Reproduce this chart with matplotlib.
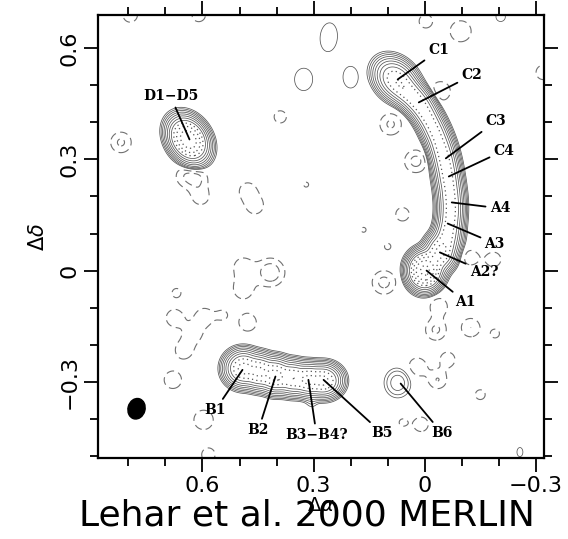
import numpy as np
import matplotlib
matplotlib.use("Agg")
import matplotlib.pyplot as plt
from matplotlib.patches import Ellipse
from matplotlib.ticker import MultipleLocator

# arc C1 -> A2 (offsets in arcsec), peak brightness in units of the lowest contour
arc_x = [0.078, 0.050, 0.020, -0.005, -0.027, -0.044, -0.055, -0.063, -0.069, -0.070, -0.064, -0.052, -0.030]
arc_y = [0.515, 0.486, 0.456, 0.418, 0.376, 0.332, 0.290, 0.246, 0.200, 0.155, 0.110, 0.068, 0.032]
arc_amp = [420, 300, 330, 280, 270, 270, 280, 280, 270, 270, 270, 300, 300]
arc_width = [0.019, 0.016, 0.015, 0.014, 0.014, 0.014, 0.014, 0.014, 0.014, 0.014, 0.014, 0.016, 0.017]

# compact components: A1, A2, D, B knots, B bump, B6, faint positive peaks
src_x = [0.000, -0.043, 0.638, 0.490, 0.447, 0.403, 0.357, 0.314, 0.273, 0.305, 0.073,
         0.259, 0.327, 0.200, -0.257, -0.205]
src_y = [0.000, 0.051, 0.354, -0.264, -0.273, -0.283, -0.290, -0.295, -0.297, -0.350, -0.303,
         0.630, 0.516, 0.522, -0.490, 0.685]
src_amp = [2500, 250, 1800, 650, 560, 640, 460, 560, 620, 2.2, 6.5,
           1.6, 1.6, 1.6, 1.3, 1.5]
src_smaj = [0.019, 0.018, 0.024, 0.019, 0.018, 0.018, 0.018, 0.018, 0.019, 0.010, 0.021,
            0.040, 0.031, 0.030, 0.017, 0.014]
src_smin = [0.017, 0.015, 0.018, 0.0185, 0.018, 0.018, 0.0175, 0.017, 0.017, 0.013, 0.019,
            0.024, 0.025, 0.021, 0.011, 0.014]
src_pa = [90, 60, 57, 0, 0, 0, 0, 0, 0, 0, 90,
          95, 90, 90, 90, 0]

# negative (dashed) residuals
neg_x = [0.795, 0.610, 0.820, 0.645, 0.612, 0.605, 0.478, 0.458, 0.390, 0.320, 0.165, 0.490, 0.416,
         0.490, 0.670, 0.675, 0.595, 0.625, 0.650, 0.680, 0.597, 0.584, 0.478, 0.100, 0.110, 0.060,
         0.092, 0.024, -0.043, -0.097, -0.003, -0.320, -0.124, -0.186, -0.038, -0.030, -0.124,
         -0.190, 0.020, -0.035, -0.062, -0.150, 0.010, 0.060, 0.545]
neg_y = [0.690, 0.690, 0.346, 0.255, 0.250, 0.200, 0.215, 0.175, 0.415, 0.232, 0.110, 0.010, -0.005,
         -0.050, -0.060, -0.128, -0.125, -0.170, -0.215, -0.295, -0.403, -0.497, -0.140, 0.065, -0.032,
         0.152, 0.395, 0.295, 0.484, 0.646, 0.673, 0.535, 0.035, 0.030, -0.097, -0.160, -0.154,
         -0.170, -0.260, -0.295, -0.240, -0.335, -0.415, -0.410, -0.120]
neg_amp = [-1.6, -1.5, -2.2, -1.7, -1.7, -1.6, -1.6, -1.6, -1.4, -1.1, -1.1, -1.6, -3.0,
           -1.6, -1.3, -1.7, -1.7, -1.6, -1.7, -1.6, -1.8, -1.5, -1.6, -1.2, -2.4, -1.5,
           -2.2, -2.4, -1.8, -2.0, -1.5, -1.6, -1.6, -1.6, -1.8, -2.2, -2.0,
           -1.3, -1.8, -2.0, -1.6, -1.4, -1.6, -1.2, -1.2]
neg_s = [0.020, 0.020, 0.022, 0.024, 0.022, 0.022, 0.022, 0.022, 0.020, 0.015, 0.015, 0.024, 0.026,
         0.026, 0.016, 0.022, 0.022, 0.022, 0.022, 0.024, 0.024, 0.020, 0.024, 0.014, 0.024, 0.020,
         0.023, 0.023, 0.024, 0.024, 0.020, 0.020, 0.020, 0.020, 0.021, 0.022, 0.021,
         0.016, 0.022, 0.020, 0.020, 0.016, 0.020, 0.014, 0.016]

levels_solid = 2.0 ** np.arange(0, 8)
levels_dotted = 2.0 ** np.arange(8, 12)
levels_neg = [-4.0, -2.0, -1.0]


def gauss2d(X, Y, x0, y0, amp, smaj, smin, pa_deg):
    th = np.deg2rad(pa_deg)
    dx, dy = X - x0, Y - y0
    u = dx * np.cos(th) + dy * np.sin(th)
    v = -dx * np.sin(th) + dy * np.cos(th)
    return amp * np.exp(-0.5 * ((u / smaj) ** 2 + (v / smin) ** 2))


xg = np.arange(-0.34, 0.90, 0.0015)
yg = np.arange(-0.52, 0.71, 0.0015)
X, Y = np.meshgrid(xg, yg)
Z = np.zeros_like(X)

# arc knots are stretched along the local direction of the arc
tx = np.gradient(np.array(arc_x))
ty = np.gradient(np.array(arc_y))
arc_pa = np.rad2deg(np.arctan2(ty, tx))
for x0, y0, a, w, pa in zip(arc_x, arc_y, arc_amp, arc_width, arc_pa):
    Z += gauss2d(X, Y, x0, y0, a, 0.025, w, pa)
for x0, y0, a, s1, s2, pa in zip(src_x, src_y, src_amp, src_smaj, src_smin, src_pa):
    Z += gauss2d(X, Y, x0, y0, a, s1, s2, pa)
for x0, y0, a, s in zip(neg_x, neg_y, neg_amp, neg_s):
    Z += gauss2d(X, Y, x0, y0, a, s, s, 0)

fig = plt.figure(figsize=(5.68, 5.39), dpi=100)
ax = fig.add_axes([98 / 568, 1 - 458 / 539, 446 / 568, 443 / 539])

ax.contour(X, Y, Z, levels=levels_solid, colors="#555555", linewidths=0.55, linestyles="solid")
ax.contour(X, Y, Z, levels=levels_dotted, colors="#555555", linewidths=0.9, linestyles=[(0, (1, 2.5))])
ax.contour(X, Y, Z, levels=levels_neg, colors="#707070", linewidths=0.8, linestyles=[(0, (7, 4))])

# restoring beam
ax.add_patch(Ellipse((0.778, -0.373), 0.046, 0.056, angle=15, color="black"))

labels = [
    ("C1", (0.073, 0.516), (-0.038, 0.595)),
    ("C2", (0.016, 0.454), (-0.127, 0.527)),
    ("C3", (-0.057, 0.303), (-0.192, 0.403)),
    ("C4", (-0.065, 0.254), (-0.214, 0.324)),
    ("A4", (-0.073, 0.184), (-0.203, 0.168)),
    ("A3", (-0.062, 0.127), (-0.189, 0.073)),
    ("A2?", (-0.041, 0.049), (-0.160, -0.003)),
    ("A1", (-0.005, 0.000), (-0.111, -0.086)),
    ("B1", (0.492, -0.268), (0.565, -0.376)),
    ("B2", (0.403, -0.286), (0.449, -0.430)),
    ("B3\u2212B4?", (0.314, -0.295), (0.292, -0.443)),
    ("B5", (0.273, -0.295), (0.116, -0.438)),
    ("B6", (0.065, -0.305), (-0.046, -0.438)),
    ("D1\u2212D5", (0.635, 0.354), (0.686, 0.470)),
]
for name, pt, txt in labels:
    ax.annotate(name, xy=pt, xytext=txt, ha="center", va="center",
                fontsize=10, fontweight="bold", family="DejaVu Serif",
                arrowprops=dict(arrowstyle="-", lw=1.3, color="black",
                                shrinkA=1, shrinkB=0))

ax.set_xlim(0.882, -0.322)
ax.set_ylim(-0.505, 0.689)
ax.set_aspect("equal", adjustable="box")

ax.xaxis.set_major_locator(MultipleLocator(0.3))
ax.xaxis.set_minor_locator(MultipleLocator(0.1))
ax.yaxis.set_major_locator(MultipleLocator(0.3))
ax.yaxis.set_minor_locator(MultipleLocator(0.1))
fmt = plt.FuncFormatter(lambda v, p: "0" if abs(v) < 1e-9 else f"{v:.1f}".replace("-", "\u2212"))
ax.xaxis.set_major_formatter(fmt)
ax.yaxis.set_major_formatter(fmt)
ax.tick_params(which="both", direction="out", top=True, right=True, width=1.3, labelsize=16)
ax.tick_params(which="major", length=10)
ax.tick_params(which="minor", length=6)
ax.tick_params(axis="x", which="both", labeltop=False)
ax.tick_params(axis="y", which="both", labelright=False)
for lab in ax.get_yticklabels():
    lab.set_rotation(90)
    lab.set_va("center")
for sp in ax.spines.values():
    sp.set_linewidth(1.6)

ax.set_xlabel(r"$\Delta\alpha$", fontsize=14, labelpad=0)
ax.set_ylabel(r"$\Delta\delta$", fontsize=15, labelpad=8)

fig.text(0.54, 0.043, "Lehar et al. 2000 MERLIN", fontsize=26, ha="center", va="center")

fig.savefig("out.png", dpi=100)
